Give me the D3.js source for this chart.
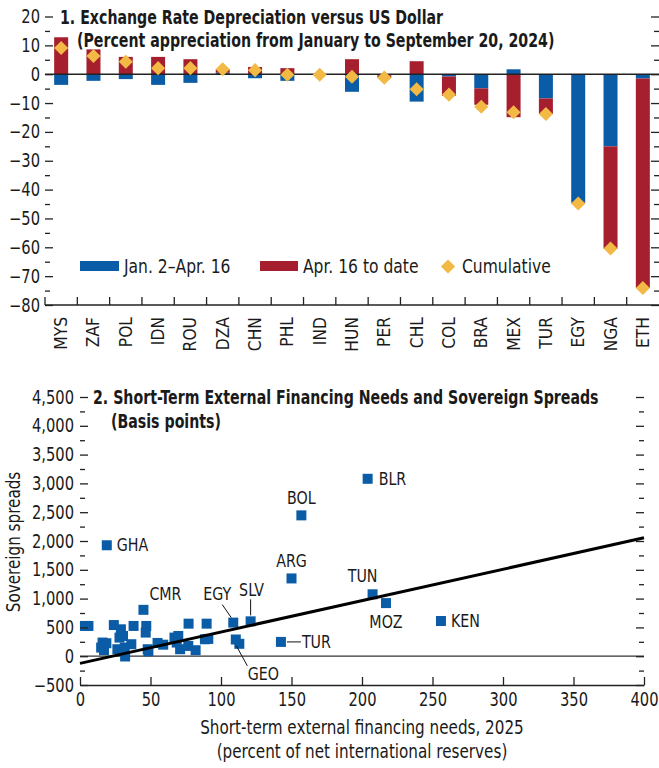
<!DOCTYPE html>
<html>
<head>
<meta charset="utf-8">
<script src="https://cdn.jsdelivr.net/npm/d3@7"></script>
<style>
  body { margin: 0; background: #fff; }
  svg text { font-family: "DejaVu Sans Condensed", "Liberation Sans Narrow", sans-serif; fill: #1a1a1a; }
</style>
</head>
<body>
<div id="chart"></div>
<script>
// Panel 1 data: percent appreciation vs US dollar
const countries = ["MYS", "ZAF", "POL", "IDN", "ROU", "DZA", "CHN", "PHL", "IND", "HUN",
  "PER", "CHL", "COL", "BRA", "MEX", "TUR", "EGY", "NGA", "ETH"];
const janToApr = [-3.7, -2.3, -1.7, -3.7, -3.0, 0.5, -1.4, -2.3, -0.1, -6.1,
  -0.4, -9.5, -0.8, -4.9, 1.7, -8.4, -44.5, -25.0, -1.5];
const aprToDate = [12.8, 8.6, 6.0, 6.0, 5.2, 1.2, 2.5, 2.1, 0.0, 5.2,
  -0.8, 4.5, -6.7, -5.7, -14.9, -5.4, -0.3, -35.5, -72.6];
const cumulative = [9.1, 6.3, 4.3, 2.1, 2.1, 1.7, 1.4, -0.2, -0.2, -0.9,
  -1.2, -5.2, -7.1, -11.3, -13.2, -13.8, -44.8, -60.4, -74.1];
const seriesNames = ["Jan. 2\u2013Apr. 16", "Apr. 16 to date", "Cumulative"];
const yTicks1 = [20, 10, 0, -10, -20, -30, -40, -50, -60, -70, -80];

// Panel 2 data: short-term external financing needs vs spreads
const needs = [204, 157, 19, 150, 207.5, 217, 256, 142.5, 121, 108.7, 113, 45,
  3.5, 6, 16, 18.7, 15, 17, 24, 29, 28, 30.5, 26.5, 31.7, 32, 36.4, 38, 47, 46.6,
  48, 48.5, 55, 59, 67, 69.7, 68.6, 71, 76.8, 77, 82, 89.8, 88.6, 91, 110.5];
const spreads = [3080, 2445, 1926, 1350, 1075, 922, 611, 248, 605, 583, 215, 805,
  525, 525, 237, 225, 150, 104, 541, 467, 323, 351, 121, 150, -5, 208, 525, 525, 410,
  121, 85, 230, 200, 323, 351, 237, 121, 178, 565, 104, 565, 294, 300, 290];
const pointCodes = ["BLR", "BOL", "GHA", "ARG", "TUN", "MOZ", "KEN", "TUR", "SLV", "EGY", "GEO", "CMR"];
const fitIntercept = -125;
const fitSlope = 5.45;
const yTicks2 = [4500, 4000, 3500, 3000, 2500, 2000, 1500, 1000, 500, 0, -500];
const xTicks2 = [0, 50, 100, 150, 200, 250, 300, 350, 400];

const blue = "#0b5ca6";
const red = "#a61f2f";
const gold = "#f2b944";

const svg = d3.select("#chart").append("svg").attr("width", 659).attr("height", 768);

const fmtMinus = (v) => (v < 0 ? "\u2212" + d3.format(",")(-v) : d3.format(",")(v));

// squeeze text horizontally (the source font is a condensed face)
function squeeze(sel, s) {
  sel.each(function () {
    const el = this;
    const t = el.getAttribute("transform") || "";
    const x = +(el.getAttribute("x") || 0);
    const y = +(el.getAttribute("y") || 0);
    el.setAttribute("transform", `${t} translate(${x},${y}) scale(${s},1) translate(${-x},${-y})`);
  });
}

//Panel 1
function drawPanel1() {
  const left = 45, right = 659, top = 16.5, bottom = 305;
  const x = d3.scaleBand().domain(countries).range([left, right]);
  const y = d3.scaleLinear().domain([-80, 20]).range([bottom, top]);

  const rows = countries.map((c, i) => ({ country: c, a: janToApr[i], b: aprToDate[i] }));
  const stacked = d3.stack().keys(["a", "b"]).offset(d3.stackOffsetDiverging)(rows);
  const colors = [blue, red];
  const barW = 14;

  stacked.forEach((layer, k) => {
    svg.append("g")
      .selectAll("rect")
      .data(layer)
      .join("rect")
      .attr("x", (d) => x(d.data.country) + x.bandwidth() / 2 - barW / 2)
      .attr("width", barW)
      .attr("y", (d) => y(Math.max(d[0], d[1])))
      .attr("height", (d) => Math.abs(y(d[0]) - y(d[1])))
      .attr("fill", colors[k]);
  });

  // zero line
  svg.append("line")
    .attr("x1", left).attr("x2", right)
    .attr("y1", y(0)).attr("y2", y(0))
    .attr("stroke", "#222").attr("stroke-width", 1.6);

  svg.append("g")
    .selectAll("path")
    .data(cumulative)
    .join("path")
    .attr("d", d3.symbol(d3.symbolSquare).size(100))
    .attr("transform", (d, i) => `translate(${x(countries[i]) + x.bandwidth() / 2},${y(d)}) rotate(45)`)
    .attr("fill", gold);

  // left axis
  const minor = d3.range(-75, 20, 10);
  svg.append("g")
    .attr("class", "tick-labels")
    .attr("transform", `translate(${left},0)`)
    .call(d3.axisLeft(y).tickValues(yTicks1).tickSize(-8).tickPadding(5).tickFormat(fmtMinus))
    .call((g) => g.select(".domain").remove())
    .call((g) => g.selectAll("text").attr("font-size", 19))
    .call((g) => g.selectAll("line").attr("stroke", "#222").attr("stroke-width", 1.3));
  svg.append("g")
    .attr("transform", `translate(${left},0)`)
    .call(d3.axisLeft(y).tickValues(minor).tickSize(-5).tickFormat(""))
    .call((g) => g.select(".domain").remove())
    .call((g) => g.selectAll("line").attr("stroke", "#222").attr("stroke-width", 1.3));

  // right axis ticks
  svg.append("g")
    .attr("transform", `translate(${right},0)`)
    .call(d3.axisRight(y).tickValues(yTicks1).tickSize(-8).tickFormat(""))
    .call((g) => g.select(".domain").remove())
    .call((g) => g.selectAll("line").attr("stroke", "#222").attr("stroke-width", 1.3));
  svg.append("g")
    .attr("transform", `translate(${right},0)`)
    .call(d3.axisRight(y).tickValues(minor).tickSize(-5).tickFormat(""))
    .call((g) => g.select(".domain").remove())
    .call((g) => g.selectAll("line").attr("stroke", "#222").attr("stroke-width", 1.3));

  // bottom axis
  svg.append("line")
    .attr("x1", left).attr("x2", right)
    .attr("y1", bottom).attr("y2", bottom)
    .attr("stroke", "#222").attr("stroke-width", 1.6);
  svg.append("g")
    .selectAll("line")
    .data(countries)
    .join("line")
    .attr("x1", (d) => x(d)).attr("x2", (d) => x(d))
    .attr("y1", bottom).attr("y2", bottom - 8)
    .attr("stroke", "#222").attr("stroke-width", 1.3);
  svg.append("g")
    .attr("class", "cat-labels")
    .selectAll("text")
    .data(countries)
    .join("text")
    .attr("transform", (d) => `translate(${x(d) + x.bandwidth() / 2 + 6},317) rotate(-90)`)
    .attr("text-anchor", "end")
    .attr("font-size", 18)
    .text((d) => d);

  // title
  svg.append("text").attr("class", "title").attr("x", 60).attr("y", 24).attr("font-size", 19).attr("font-weight", "bold")
    .text("1. Exchange Rate Depreciation versus US Dollar");
  svg.append("text").attr("class", "title").attr("x", 77).attr("y", 47).attr("font-size", 19).attr("font-weight", "bold")
    .text("(Percent appreciation from January to September 20, 2024)");

  // legend
  const lg = svg.append("g").attr("class", "legend");
  lg.append("rect").attr("x", 80).attr("y", 261).attr("width", 39).attr("height", 10).attr("fill", blue);
  lg.append("text").attr("x", 124).attr("y", 273).attr("font-size", 19).text(seriesNames[0]);
  lg.append("rect").attr("x", 260).attr("y", 261).attr("width", 38).attr("height", 10).attr("fill", red);
  lg.append("text").attr("x", 303).attr("y", 273).attr("font-size", 19).text(seriesNames[1]);
  lg.append("path").attr("d", d3.symbol(d3.symbolSquare).size(100))
    .attr("transform", "translate(448,266.5) rotate(45)").attr("fill", gold);
  lg.append("text").attr("x", 462).attr("y", 273).attr("font-size", 19).text(seriesNames[2]);
}

//Panel 2
function drawPanel2() {
  const left = 80, right = 644, top = 397, bottom = 685;
  const x = d3.scaleLinear().domain([0, 400]).range([left, right]);
  const y = d3.scaleLinear().domain([-500, 4500]).range([bottom, top]);
  const minor = d3.range(-250, 4500, 500);

  // zero line
  svg.append("line")
    .attr("x1", left).attr("x2", right)
    .attr("y1", y(0)).attr("y2", y(0))
    .attr("stroke", "#333").attr("stroke-width", 1.2);

  const pts = needs.map((v, i) => ({ x: v, y: spreads[i], code: pointCodes[i] || null }));

  svg.append("g")
    .selectAll("path")
    .data(pts)
    .join("path")
    .attr("d", d3.symbol(d3.symbolSquare).size(100))
    .attr("transform", (d) => `translate(${x(d.x)},${y(d.y)})`)
    .attr("fill", blue);

  // fitted line
  const fit = d3.line().x((d) => x(d)).y((d) => y(fitIntercept + fitSlope * d));
  svg.append("path")
    .datum(x.domain())
    .attr("d", fit)
    .attr("stroke", "#000").attr("stroke-width", 3).attr("fill", "none");

  // point labels: [dx, dy, anchor, leader]
  const place = {
    BLR: [11, 6, "start"],
    BOL: [0, -11, "middle"],
    GHA: [10, 6, "start"],
    ARG: [0, -11, "middle"],
    TUN: [-10, -12, "middle"],
    MOZ: [0, 25, "middle"],
    KEN: [10, 6, "start"],
    TUR: [21, 6, "start", [6, 0, 20, 0]],
    SLV: [1, -25, "middle", [0, -6, 0, -22]],
    EGY: [-16, -23, "middle", [-2, -5, -11, -18]],
    GEO: [24, 36, "middle", [-3, 2, 8, 22]],
    CMR: [22, -10, "middle"],
  };
  const lab = svg.append("g").attr("class", "point-labels");
  pts.filter((d) => d.code).forEach((d) => {
    const p = place[d.code];
    const px = x(d.x), py = y(d.y);
    if (p[3]) {
      svg.append("line")
        .attr("x1", px + p[3][0]).attr("y1", py + p[3][1])
        .attr("x2", px + p[3][2]).attr("y2", py + p[3][3])
        .attr("stroke", "#111").attr("stroke-width", 1);
    }
    lab.append("text")
      .attr("x", px + p[0]).attr("y", py + p[1])
      .attr("text-anchor", p[2]).attr("font-size", 18)
      .text(d.code);
  });

  // left axis
  svg.append("g")
    .attr("class", "tick-labels")
    .attr("transform", `translate(${left},0)`)
    .call(d3.axisLeft(y).tickValues(yTicks2).tickSize(-8).tickPadding(6).tickFormat(fmtMinus))
    .call((g) => g.select(".domain").remove())
    .call((g) => g.selectAll("text").attr("font-size", 19))
    .call((g) => g.selectAll("line").attr("stroke", "#222").attr("stroke-width", 1.3));
  svg.append("g")
    .attr("transform", `translate(${left},0)`)
    .call(d3.axisLeft(y).tickValues(minor).tickSize(-5).tickFormat(""))
    .call((g) => g.select(".domain").remove())
    .call((g) => g.selectAll("line").attr("stroke", "#222").attr("stroke-width", 1.3));

  // right axis ticks
  svg.append("g")
    .attr("transform", `translate(${right},0)`)
    .call(d3.axisRight(y).tickValues(yTicks2).tickSize(-8).tickFormat(""))
    .call((g) => g.select(".domain").remove())
    .call((g) => g.selectAll("line").attr("stroke", "#222").attr("stroke-width", 1.3));
  svg.append("g")
    .attr("transform", `translate(${right},0)`)
    .call(d3.axisRight(y).tickValues(minor).tickSize(-5).tickFormat(""))
    .call((g) => g.select(".domain").remove())
    .call((g) => g.selectAll("line").attr("stroke", "#222").attr("stroke-width", 1.3));

  // bottom axis
  svg.append("g")
    .attr("class", "tick-labels")
    .attr("transform", `translate(0,${bottom})`)
    .call(d3.axisBottom(x).tickValues(xTicks2).tickSize(-8).tickPadding(8).tickSizeOuter(0))
    .call((g) => g.select(".domain").attr("stroke", "#222").attr("stroke-width", 1.6))
    .call((g) => g.selectAll("text").attr("font-size", 19))
    .call((g) => g.selectAll("line").attr("stroke", "#222").attr("stroke-width", 1.3));

  // axis titles
  const at = svg.append("g").attr("class", "axis-titles");
  at.append("text")
    .attr("transform", `translate(20,542) rotate(-90)`)
    .attr("text-anchor", "middle").attr("font-size", 19)
    .text("Sovereign spreads");
  at.append("text").attr("x", 362).attr("y", 734).attr("text-anchor", "middle").attr("font-size", 19)
    .text("Short-term external financing needs, 2025");
  at.append("text").attr("x", 362).attr("y", 758).attr("text-anchor", "middle").attr("font-size", 19)
    .text("(percent of net international reserves)");

  // title
  svg.append("text").attr("class", "title").attr("x", 93).attr("y", 404).attr("font-size", 19).attr("font-weight", "bold")
    .text("2. Short-Term External Financing Needs and Sovereign Spreads");
  svg.append("text").attr("class", "title").attr("x", 111).attr("y", 428).attr("font-size", 19).attr("font-weight", "bold")
    .text("(Basis points)");
}

drawPanel1();
drawPanel2();

squeeze(svg.selectAll("text.title"), 0.83);
squeeze(svg.selectAll(".tick-labels text"), 0.86);
squeeze(svg.selectAll(".point-labels text"), 0.88);
squeeze(svg.selectAll(".legend text"), 0.91);
squeeze(svg.selectAll(".axis-titles text"), 0.89);
squeeze(svg.selectAll(".cat-labels text"), 0.96);
</script>
</body>
</html>
